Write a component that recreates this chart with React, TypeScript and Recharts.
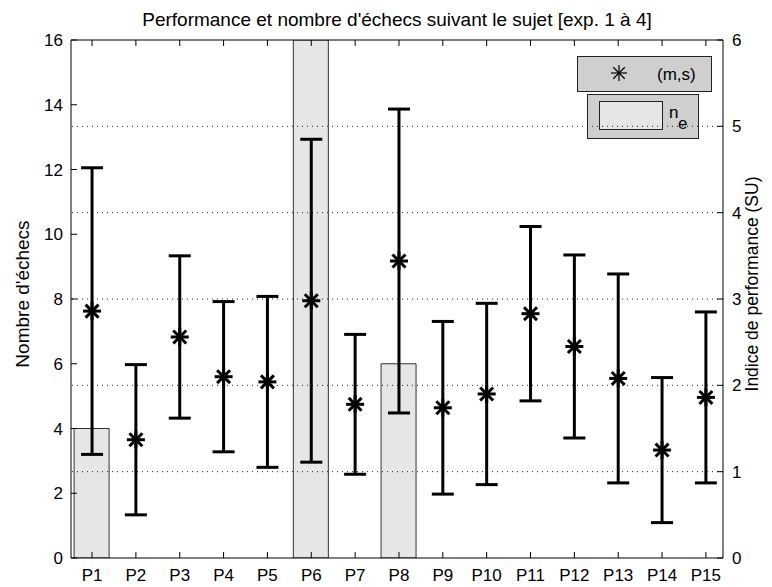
import React from "react";
import {
  ComposedChart,
  Bar,
  Scatter,
  ErrorBar,
  XAxis,
  YAxis,
  ReferenceLine,
  Customized,
} from "recharts";

// subjects, number of failures (bars, left axis) and performance mean / std (right axis)
const subjects = ["P1", "P2", "P3", "P4", "P5", "P6", "P7", "P8", "P9", "P10", "P11", "P12", "P13", "P14", "P15"];
const failures = [4, 0, 0, 0, 0, 16, 0, 6, 0, 0, 0, 0, 0, 0, 0];
const perfMean = [2.86, 1.37, 2.56, 2.1, 2.04, 2.98, 1.78, 3.44, 1.74, 1.9, 2.83, 2.45, 2.08, 1.25, 1.86];
const perfStd = [1.66, 0.87, 0.94, 0.87, 0.99, 1.87, 0.81, 1.76, 1.0, 1.05, 1.01, 1.06, 1.21, 0.84, 0.99];

const leftTicks = [0, 2, 4, 6, 8, 10, 12, 14, 16];
const rightTicks = [0, 1, 2, 3, 4, 5, 6];
const gridLevels = [1, 2, 3, 4, 5];
const xTicks = subjects.map((_, i) => i + 1);

const rows = subjects.map((name, i) => ({
  x: i + 1,
  name,
  ne: failures[i],
  m: perfMean[i],
  s: perfStd[i],
}));

const FONT = '"Liberation Sans", Arial, Helvetica, sans-serif';
const TXT = "#000";
const TICK_FS = 17;

const BottomTick = (props: any) => {
  const { x, y, payload } = props;
  return (
    <g>
      <line x1={x} y1={y} x2={x} y2={y - 6} stroke="#000" />
      <text x={x} y={y + 23} textAnchor="middle" fontSize={TICK_FS} fontFamily={FONT} fill={TXT}>
        {subjects[payload.value - 1]}
      </text>
    </g>
  );
};

const TopTick = (props: any) => {
  const { x, y } = props;
  return <line x1={x} y1={y} x2={x} y2={y + 6} stroke="#000" />;
};

const LeftTick = (props: any) => {
  const { x, y, payload } = props;
  return (
    <g>
      <line x1={x} y1={y} x2={x + 6} y2={y} stroke="#000" />
      <text x={x - 8} y={y} dy="0.36em" textAnchor="end" fontSize={TICK_FS} fontFamily={FONT} fill={TXT}>
        {payload.value}
      </text>
    </g>
  );
};

const RightTick = (props: any) => {
  const { x, y, payload } = props;
  return (
    <g>
      <line x1={x} y1={y} x2={x - 6} y2={y} stroke="#000" />
      <text x={x + 9} y={y} dy="0.36em" textAnchor="start" fontSize={TICK_FS} fontFamily={FONT} fill={TXT}>
        {payload.value}
      </text>
    </g>
  );
};

const Star = ({ cx, cy, r = 9, w = 3 }: { cx: number; cy: number; r?: number; w?: number }) => {
  const d = r * 0.72;
  return (
    <g stroke="#000" strokeWidth={w}>
      <line x1={cx - r} y1={cy} x2={cx + r} y2={cy} />
      <line x1={cx} y1={cy - r} x2={cx} y2={cy + r} />
      <line x1={cx - d} y1={cy - d} x2={cx + d} y2={cy + d} />
      <line x1={cx - d} y1={cy + d} x2={cx + d} y2={cy - d} />
    </g>
  );
};

const StarShape = (props: any) => <Star cx={props.cx} cy={props.cy} />;

const Decorations = () => (
  <g fontFamily={FONT} fill={TXT}>
    <text x={397} y={19} dy="0.36em" textAnchor="middle" fontSize={19}>
      Performance et nombre d'échecs suivant le sujet [exp. 1 à 4]
    </text>
    <text
      x={22}
      y={294}
      dy="0.36em"
      textAnchor="middle"
      fontSize={19}
      transform="rotate(-90 22 294)"
    >
      Nombre d'échecs
    </text>
    <text
      x={752}
      y={284}
      dy="0.36em"
      textAnchor="middle"
      fontSize={17.5}
      transform="rotate(-90 752 284)"
    >
      Indice de performance (SU)
    </text>

    {/* legend */}
    <rect x={577.5} y={56.5} width={134} height={35} fill="#cfcfcf" stroke="#222" />
    <Star cx={619} cy={73} r={8} w={1.2} />
    <text x={657} y={74} dy="0.36em" fontSize={17}>
      (m,s)
    </text>
    <rect x={587.5} y={94.5} width={111} height={44} fill="#cfcfcf" stroke="#222" />
    <rect x={599.5} y={101.5} width={63} height={28} fill="#e6e6e6" stroke="#222" />
    <text x={669} y={112} dy="0.36em" fontSize={17}>
      n
    </text>
    <text x={678} y={123} dy="0.36em" fontSize={17}>
      e
    </text>
  </g>
);

export default function App() {
  return (
    <div style={{ position: "absolute", left: 0, top: 0, background: "#fff" }}>
      <ComposedChart
        width={772}
        height={587}
        data={rows}
        margin={{ top: 39, right: 0, bottom: 0, left: 0 }}
      >
        <XAxis
          xAxisId="bottom"
          dataKey="x"
          type="number"
          domain={[0.52, 15.39]}
          ticks={xTicks}
          interval={0}
          allowDataOverflow
          height={29}
          tickSize={0}
          tickMargin={0}
          tickLine={false}
          axisLine={{ stroke: "#000" }}
          tick={<BottomTick />}
        />
        <XAxis
          xAxisId="top"
          orientation="top"
          dataKey="x"
          type="number"
          domain={[0.52, 15.39]}
          ticks={xTicks}
          interval={0}
          allowDataOverflow
          height={1}
          tickSize={0}
          tickMargin={0}
          tickLine={false}
          axisLine={{ stroke: "#000" }}
          tick={<TopTick />}
        />
        <YAxis
          yAxisId="left"
          orientation="left"
          domain={[0, 16]}
          ticks={leftTicks}
          interval={0}
          allowDataOverflow
          width={71}
          tickSize={0}
          tickMargin={0}
          tickLine={false}
          axisLine={{ stroke: "#000" }}
          tick={<LeftTick />}
        />
        <YAxis
          yAxisId="right"
          orientation="right"
          domain={[0, 6]}
          ticks={rightTicks}
          interval={0}
          allowDataOverflow
          width={49}
          tickSize={0}
          tickMargin={0}
          tickLine={false}
          axisLine={{ stroke: "#000" }}
          tick={<RightTick />}
        />
        <Bar
          xAxisId="bottom"
          yAxisId="left"
          dataKey="ne"
          barSize={35}
          fill="#e6e6e6"
          stroke="#333"
          strokeWidth={1}
          isAnimationActive={false}
        />
        {gridLevels.map((v) => (
          <ReferenceLine
            key={v}
            xAxisId="bottom"
            yAxisId="right"
            y={v}
            stroke="#222"
            strokeDasharray="1 4"
          />
        ))}
        <Scatter
          xAxisId="bottom"
          yAxisId="right"
          dataKey="m"
          shape={<StarShape />}
          isAnimationActive={false}
        >
          <ErrorBar dataKey="s" direction="y" width={11} strokeWidth={3} stroke="#000" isAnimationActive={false} />
        </Scatter>
        <Customized component={Decorations} />
      </ComposedChart>
    </div>
  );
}
